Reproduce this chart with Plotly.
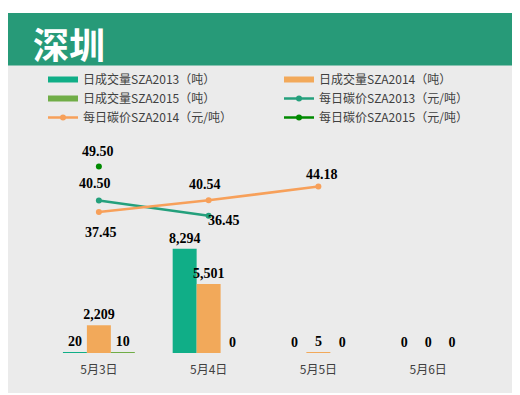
import plotly.graph_objects as go

categories = ["5月3日", "5月4日", "5月5日", "5月6日"]
vol_2013 = [20, 8294, 0, 0]
vol_2014 = [2209, 5501, 5, 0]
vol_2015 = [10, 0, 0, 0]
price_2013 = [40.50, 36.45, None, None]
price_2014 = [37.45, 40.54, 44.18, None]
price_2015 = [49.50, None, None, None]

names_bar = ["日成交量SZA2013（吨）", "日成交量SZA2014（吨）", "日成交量SZA2015（吨）"]
names_line = ["每日碳价SZA2013（元/吨）", "每日碳价SZA2014（元/吨）", "每日碳价SZA2015（元/吨）"]

# page body has an 8px margin; work in screen pixels and convert
OFF = 8
W, H = 520 - OFF, 395 - OFF
SX0, SX1, SY0, SY1 = 44, 483, 127, 353  # plot area in screen px
L, R, T, B = SX0 - OFF, W - (SX1 - OFF), SY0 - OFF, H - (SY1 - OFF)
PW, PH = SX1 - SX0, SY1 - SY0

def px(x):
    return (x - SX0) / PW

def py(y):
    return (SY1 - y) / PH

bar_colors = ["#10AE87", "#F2A95A", "#70AD47"]
line_colors = ["#24A07C", "#F7A05A", "#008A00"]
label_font = dict(family="Liberation Serif", size=14, color="#000000", weight="bold")

fig = go.Figure()
# legend keys for the bar series (wide flat swatches like the original)
for name, col in zip(names_bar, bar_colors):
    fig.add_trace(go.Scatter(
        x=[categories[0]], y=[None], name=name, mode="lines",
        line=dict(color=col, width=6), yaxis="y", legendgroup=name,
    ))

for vals, name, col in zip([vol_2013, vol_2014, vol_2015], names_bar, bar_colors):
    fig.add_trace(go.Bar(
        x=categories, y=vals, name=name, marker=dict(color=col, line=dict(width=0)),
        text=[f"{v:,}" for v in vals], textposition="outside", constraintext="none",
        textfont=label_font, cliponaxis=False, yaxis="y", showlegend=False,
        legendgroup=name,
    ))

for vals, name, col in zip([price_2013, price_2014, price_2015], names_line, line_colors):
    fig.add_trace(go.Scatter(
        x=categories, y=vals, name=name, mode="lines+markers",
        line=dict(color=col, width=2.5), marker=dict(color=col, size=6),
        yaxis="y2", cliponaxis=False,
    ))

# label offsets (style only)
offsets = {
    0: [(-4, 17), (15, -5)],
    1: [(2, -21), (-4, 16), (4, 12)],
    2: [(-1, 15)],
}
annotations = []
for idx, vals in enumerate([price_2013, price_2014, price_2015]):
    k = 0
    for c, v in zip(categories, vals):
        if v is None:
            continue
        dx, dy = offsets[idx][k]
        k += 1
        annotations.append(dict(
            x=c, y=v, xref="x", yref="y2", text=f"{v:.2f}", showarrow=False,
            xshift=dx, yshift=dy, font=label_font,
        ))

annotations.append(dict(
    x=px(69), y=py(43), xref="paper", yref="paper", text="<b>深圳</b>",
    showarrow=False, font=dict(family="Noto Sans CJK SC", size=36, color="#FFFFFF"),
    xanchor="center", yanchor="middle",
))

shapes = [
    dict(type="rect", xref="paper", yref="paper", x0=px(8), x1=px(530), y0=py(393), y1=py(65),
         fillcolor="#EBEBEB", line=dict(width=0), layer="below"),
    dict(type="rect", xref="paper", yref="paper", x0=px(7), x1=px(530), y0=py(65.5), y1=py(13),
         fillcolor="#279A78", line=dict(width=0), layer="below"),
]

fig.update_layout(
    width=W, height=H,
    margin=dict(l=L, r=R, t=T, b=B, pad=0),
    paper_bgcolor="#FFFFFF", plot_bgcolor="rgba(0,0,0,0)",
    barmode="group", bargap=0.345, bargroupgap=0,
    showlegend=True,
    legend=dict(
        orientation="h", x=px(43), y=py(65), xanchor="left", yanchor="top",
        entrywidth=191, entrywidthmode="pixels",
        font=dict(family="Noto Sans CJK SC", size=12, color="#404040"),
        bgcolor="rgba(0,0,0,0)", traceorder="normal",
    ),
    xaxis=dict(type="category", categoryorder="array", categoryarray=categories,
               showgrid=False, zeroline=False, showline=False, ticks="",
               tickfont=dict(family="Noto Sans CJK SC", size=12, color="#404040"),
               ticklabelstandoff=8),
    yaxis=dict(range=[0, 18000], visible=False, showgrid=False),
    yaxis2=dict(range=[0, 60], visible=False, showgrid=False, overlaying="y", side="right"),
    annotations=annotations, shapes=shapes,
)

fig.write_html("out.html")
